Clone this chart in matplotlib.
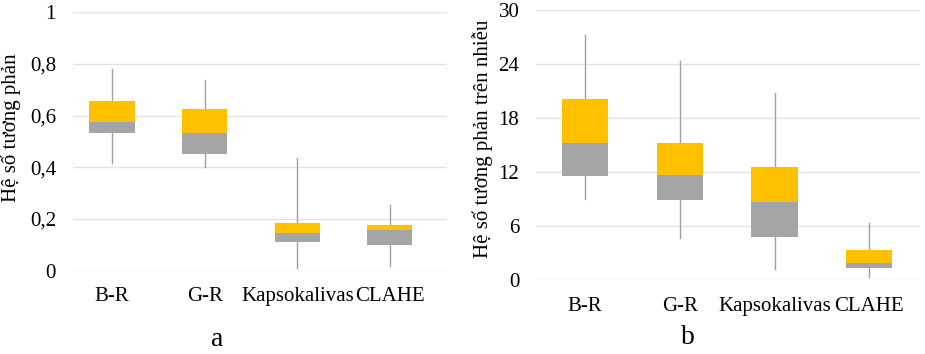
import matplotlib
matplotlib.use("Agg")
import matplotlib.pyplot as plt

plt.rcParams['font.family'] = ['Liberation Serif', 'DejaVu Serif']

categories = ["B-R", "G-R", "Kapsokalivas", "CLAHE"]

# Panel a: contrast coefficient
a_min = [0.415, 0.400, 0.012, 0.019]
a_q1 = [0.531, 0.452, 0.112, 0.099]
a_med = [0.576, 0.532, 0.146, 0.159]
a_q3 = [0.655, 0.626, 0.184, 0.177]
a_max = [0.778, 0.737, 0.434, 0.253]
a_ticks = [0, 0.2, 0.4, 0.6, 0.8, 1]
a_ticklabels = ["0", "0,2", "0,4", "0,6", "0,8", "1"]

# Panel b: contrast-to-noise ratio
b_min = [9.0, 4.70, 1.19, 0.30]
b_q1 = [11.52, 8.85, 4.78, 1.30]
b_med = [15.19, 11.63, 8.67, 1.85]
b_q3 = [20.07, 15.26, 12.59, 3.37]
b_max = [27.26, 24.37, 20.74, 6.37]
b_ticks = [0, 6, 12, 18, 24, 30]
b_ticklabels = ["0", "6", "12", "18", "24", "30"]

ORANGE = "#FFC000"
GREY = "#A5A5A5"
WHISK = "#A0A0A0"
GRID = "#E3E3E3"

fig = plt.figure(figsize=(9.25, 3.54), dpi=100)
ax1 = fig.add_axes([0.0786, 0.2353, 0.4043, 0.7307])
ax2 = fig.add_axes([0.5795, 0.2090, 0.4151, 0.7628])


def draw(ax, mn, q1, med, q3, mx, ticks, ticklabels, ylabel, xlim, width, labxy):
    x = list(range(len(categories)))
    for i in x:
        ax.plot([i, i], [mn[i], mx[i]], color=WHISK, lw=1.0, zorder=2)
    ax.bar(x, [m - a for m, a in zip(med, q1)], bottom=q1, width=width,
           color=GREY, zorder=3)
    ax.bar(x, [b - m for b, m in zip(q3, med)], bottom=med, width=width,
           color=ORANGE, zorder=3)
    ax.set_ylim(ticks[0], ticks[-1])
    ax.set_xlim(*xlim)
    ax.set_yticks(ticks)
    ax.set_yticklabels(ticklabels, fontsize=15)
    ax.set_xticks(x)
    ax.set_xticklabels(categories, fontsize=15)
    ax.tick_params(length=0)
    ax.tick_params(axis='x', pad=12)
    ax.tick_params(axis='y', pad=12)
    ax.grid(axis='y', color=GRID, lw=1.0, zorder=0)
    ax.set_axisbelow(True)
    for s in ax.spines.values():
        s.set_visible(False)
    ax.set_ylabel(ylabel, fontsize=15)
    ax.yaxis.set_label_coords(*labxy)


draw(ax1, a_min, a_q1, a_med, a_q3, a_max, a_ticks, a_ticklabels,
     "Hệ số tương phản", (-0.424, 3.612), 0.486, (-0.138, 0.552))
draw(ax2, b_min, b_q1, b_med, b_q3, b_max, b_ticks, b_ticklabels,
     "Hệ số tương phản trên nhiễu", (-0.517, 3.535), 0.488, (-0.112, 0.522))

fig.text(216.7 / 925, 1 - 340 / 354, "a", fontsize=20, ha='center', va='center')
fig.text(687.7 / 925, 1 - 338 / 354, "b", fontsize=20, ha='center', va='center')

fig.savefig("out.png", dpi=100)
